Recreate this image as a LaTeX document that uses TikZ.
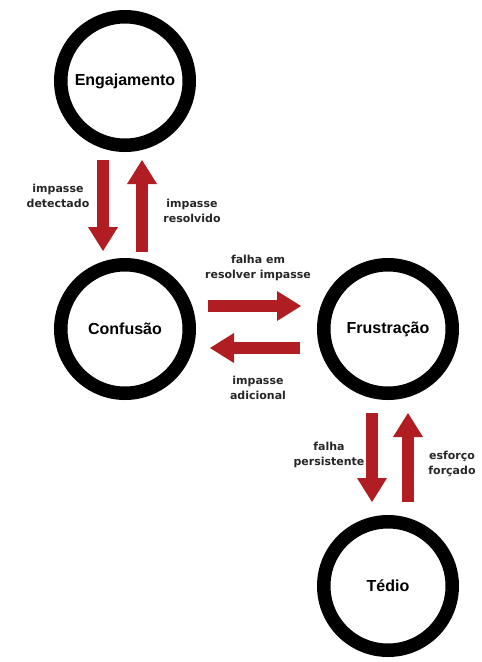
\documentclass[tikz,border=0pt]{standalone}
\usepackage{fontspec}
\setmainfont{Liberation Sans}
\newfontfamily\labelfont{DejaVu Sans}
\usetikzlibrary{arrows.meta}
\definecolor{flowred}{RGB}{176,30,36}
\begin{document}
\begin{tikzpicture}[x=1pt,y=-1pt,
  state/.style={circle, draw=black, line width=13.5pt, minimum size=128.5pt,
    inner sep=0pt, font=\fontsize{16}{19}\selectfont\bfseries},
  flow/.style={draw=flowred, line width=12pt,
    -{Triangle[length=24pt,width=30pt,line width=0pt]}},
  note/.style={align=center, inner sep=0pt, text=black!85,
    font=\labelfont\bfseries\fontsize{11}{15}\selectfont}]
\useasboundingbox[fill=white] (0,0) rectangle (482,662);

% states (anchors sit on the outer edge of the ring)
\node[state] (eng)   at (125,81)  {Engajamento};
\node[state] (conf)  at (125,329) {Confusão};
\node[state] (frus)  at (388,329) {Frustração};
\node[state] (tedio) at (388,586) {Tédio};

% transitions
\draw[flow] ([xshift=-22pt,yshift=-8pt]eng.south) -- ([xshift=-22pt,yshift=7pt]conf.north);
\draw[flow] ([xshift=17pt,yshift=6pt]conf.north) -- ([xshift=17pt,yshift=-8pt]eng.south);
\draw[flow] ([xshift=12pt,yshift=23pt]conf.east) -- ([xshift=-16pt,yshift=23pt]frus.west);
\draw[flow] ([xshift=-17pt,yshift=-19pt]frus.west) -- ([xshift=14pt,yshift=-19pt]conf.east);
\draw[flow] ([xshift=-16pt,yshift=-13pt]frus.south) -- ([xshift=-16pt,yshift=13pt]tedio.north);
\draw[flow] ([xshift=20pt,yshift=13pt]tedio.north) -- ([xshift=20pt,yshift=-13pt]frus.south);

% transition labels
\node[note] (l1) at (58,195.5)  {impasse\\detectado};
\node[note] (l2) at (192,210.5) {impasse\\resolvido};
\node[note] (l3) at (258,267.5) {falha em\\resolver impasse};
\node[note] (l4) at (258,387.5) {impasse\\adicional};
\node[note] (l5) at (329,455)   {falha\\persistente};
\node[note] (l6) at (452,464)   {esforço\\forçado};
\end{tikzpicture}
\end{document}
